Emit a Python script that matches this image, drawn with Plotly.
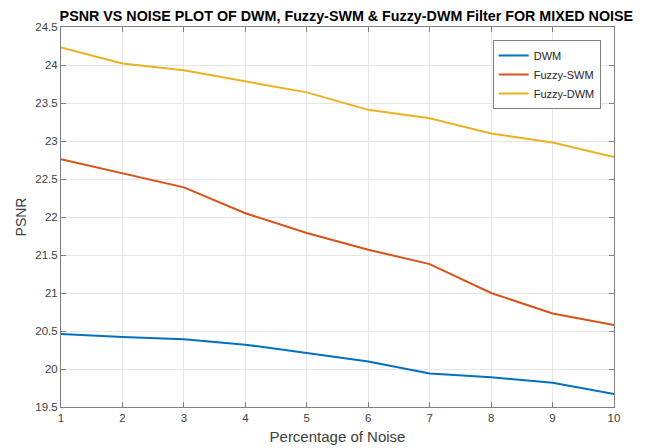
import plotly.graph_objects as go

noise = [1, 2, 3, 4, 5, 6, 7, 8, 9, 10]
dwm = [20.46, 20.42, 20.39, 20.32, 20.21, 20.10, 19.94, 19.89, 19.82, 19.67]
fuzzy_swm = [22.76, 22.57, 22.39, 22.05, 21.79, 21.57, 21.38, 21.00, 20.73, 20.58]
fuzzy_dwm = [24.23, 24.02, 23.93, 23.79, 23.64, 23.41, 23.30, 23.10, 22.98, 22.79]

series = [("DWM", dwm, "#0072BD"), ("Fuzzy-SWM", fuzzy_swm, "#D95319"), ("Fuzzy-DWM", fuzzy_dwm, "#EDB120")]

fig = go.Figure()
for name, vals, col in series:
    fig.add_trace(go.Scatter(x=noise, y=vals, mode="lines", name=name,
                             line=dict(color=col, width=2)))

FONT = "Liberation Sans, Arial"
axis_common = dict(showline=True, linecolor="#7f7f7f", linewidth=1, mirror="ticks",
                   ticks="inside", ticklen=5, tickcolor="#7f7f7f",
                   showgrid=True, gridcolor="#e6e6e6", gridwidth=1, zeroline=False,
                   automargin=False,
                   tickfont=dict(family=FONT, size=11.5, color="#404040"))

fig.update_layout(
    width=638, height=440,
    margin=dict(l=53, r=32, t=19, b=41),
    paper_bgcolor="white", plot_bgcolor="white",
    title=dict(text="<b>PSNR VS NOISE PLOT OF DWM, Fuzzy-SWM & Fuzzy-DWM Filter FOR MIXED NOISE</b>",
               x=0.516, xref="paper", xanchor="center", y=0.994, yanchor="top", pad=dict(t=0),
               font=dict(family=FONT, size=14.3, color="black")),
    xaxis=dict(range=[1, 10], tickvals=noise, title=dict(text="Percentage of Noise", standoff=8,
               font=dict(family=FONT, size=15, color="#404040")), **axis_common),
    yaxis=dict(range=[19.5, 24.5], dtick=0.5, tick0=19.5, title=dict(text="PSNR", standoff=5,
               font=dict(family=FONT, size=14, color="#404040")), **axis_common),
    legend=dict(x=0.976, y=0.966, xanchor="right", yanchor="top", bgcolor="white",
                bordercolor="#7f7f7f", borderwidth=1, tracegroupgap=0,
                font=dict(family=FONT, size=11, color="#262626")),
    showlegend=True,
)

fig.write_html("out.html")
